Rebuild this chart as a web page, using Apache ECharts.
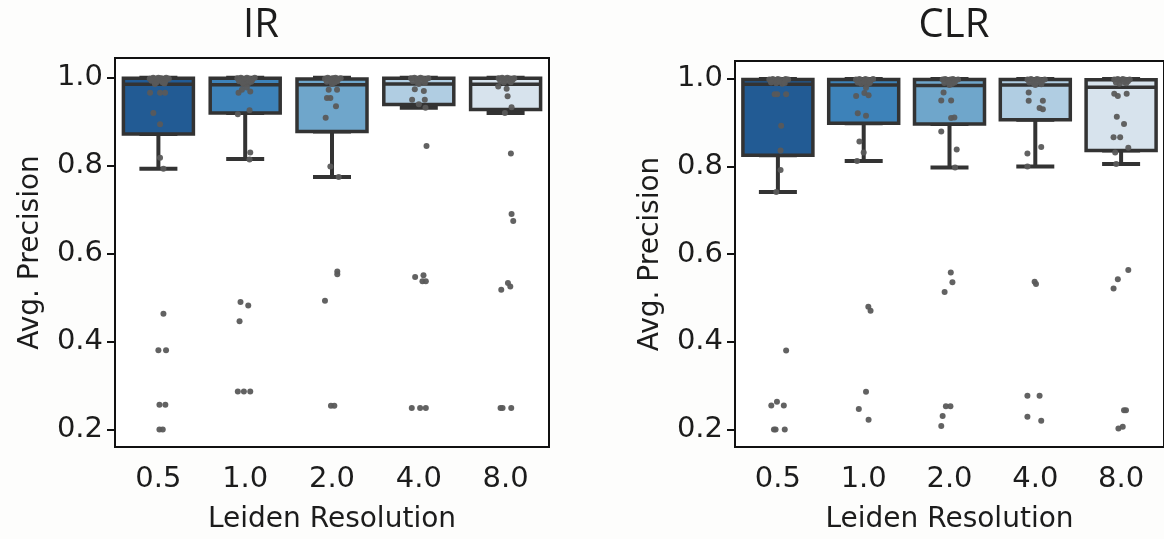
<!DOCTYPE html>
<html>
<head>
    <meta charset="UTF-8">
    <title>IR / CLR</title>
    <script src="https://cdn.jsdelivr.net/npm/echarts@6/dist/echarts.min.js"></script>
</head>
<body style="margin:0; background:#fdfdfc;">
<div id="chart" style="width:1164px; height:539px;"></div>
<script>
    var categories = ['0.5', '1.0', '2.0', '4.0', '8.0'];
    var yTicks = [0.2, 0.4, 0.6, 0.8, 1.0];
    var boxColors = ['#225b94', '#3d82b9', '#6fa6cb', '#b0cde2', '#d7e3ed'];

    // box stats per resolution: whisker low, Q1, median, Q3, whisker high
    var irMin = [0.793, 0.815, 0.774, 0.932, 0.920];
    var irQ1  = [0.872, 0.920, 0.878, 0.939, 0.928];
    var irMed = [0.985, 0.984, 0.984, 0.986, 0.985];
    var irQ3  = [0.999, 0.999, 0.997, 0.999, 0.999];
    var irMax = [1.000, 1.000, 1.000, 1.000, 1.000];

    var clrMin = [0.742, 0.813, 0.798, 0.800, 0.806];
    var clrQ1  = [0.826, 0.899, 0.897, 0.907, 0.837];
    var clrMed = [0.988, 0.986, 0.985, 0.986, 0.981];
    var clrQ3  = [0.999, 0.999, 0.999, 0.999, 0.998];
    var clrMax = [1.000, 1.000, 1.000, 1.000, 1.000];

    // strip points: [jitter, value]
    var irPts05 = [[-0.10,0.998],[-0.06,1.0],[-0.03,0.997],[0.0,1.0],[0.03,0.999],[0.06,0.996],[0.09,1.0],[0.12,0.998],
        [-0.08,0.993],[-0.02,0.990],[0.02,0.994],[0.05,0.989],[0.08,0.992],[-0.04,0.986],[0.07,0.987],
        [-0.096,0.966],[0.019,0.966],[0.077,0.966],[-0.058,0.920],[0.019,0.894],[0.019,0.818],[0.058,0.793],
        [0.058,0.463],[0.0,0.380],[0.088,0.380],[0.012,0.256],[0.08,0.256],[0.012,0.200],[0.05,0.200]];
    var irPts10 = [[-0.09,0.999],[-0.05,1.0],[-0.01,0.997],[0.02,1.0],[0.05,0.998],[0.08,0.995],[0.11,1.0],
        [-0.07,0.992],[-0.03,0.989],[0.01,0.993],[0.04,0.988],[0.07,0.991],[-0.02,0.985],
        [-0.038,0.973],[0.019,0.978],[0.058,0.969],[-0.077,0.966],[0.05,0.926],[-0.085,0.917],[0.058,0.830],[0.05,0.814],
        [-0.054,0.490],[0.035,0.482],[-0.065,0.446],[-0.085,0.286],[-0.015,0.286],[0.058,0.286]];
    var irPts20 = [[-0.08,0.998],[-0.05,1.0],[-0.02,0.996],[0.01,0.999],[0.04,1.0],[0.07,0.997],[0.10,0.999],
        [-0.06,0.991],[-0.01,0.993],[0.03,0.989],[0.06,0.992],[0.0,0.986],
        [-0.038,0.973],[0.058,0.973],[-0.058,0.954],[-0.019,0.954],[0.046,0.935],[-0.073,0.909],[-0.019,0.798],[0.077,0.774],
        [0.061,0.559],[0.061,0.553],[-0.081,0.493],[-0.012,0.254],[0.027,0.254]];
    var irPts40 = [[-0.09,0.999],[-0.05,1.0],[-0.02,0.997],[0.02,1.0],[0.05,0.998],[0.08,0.996],[0.11,0.999],
        [-0.07,0.992],[-0.02,0.990],[0.03,0.993],[0.07,0.988],[0.0,0.986],
        [-0.046,0.974],[0.058,0.970],[-0.077,0.950],[0.069,0.950],[0.0,0.940],[0.077,0.932],[0.089,0.845],
        [-0.042,0.547],[0.054,0.551],[0.042,0.537],[0.081,0.537],[-0.081,0.249],[0.015,0.249],[0.081,0.249]];
    var irPts80 = [[-0.08,0.999],[-0.04,1.0],[-0.01,0.997],[0.02,1.0],[0.05,0.998],[0.08,0.995],[0.10,0.999],
        [-0.06,0.992],[-0.02,0.989],[0.03,0.993],[0.06,0.990],
        [-0.085,0.980],[0.012,0.975],[0.023,0.958],[0.069,0.933],[-0.008,0.920],[0.061,0.828],[0.069,0.690],[0.088,0.674],
        [0.027,0.533],[0.054,0.525],[-0.05,0.518],[-0.058,0.249],[-0.035,0.249],[0.065,0.249]];

    var clrPts05 = [[-0.10,0.999],[-0.06,1.0],[-0.03,0.997],[0.0,1.0],[0.03,0.998],[0.06,0.996],[0.09,1.0],[0.12,0.999],
        [-0.08,0.992],[-0.02,0.990],[0.02,0.994],[0.05,0.989],[0.08,0.991],
        [-0.038,0.965],[-0.008,0.965],[0.096,0.965],[0.038,0.893],[0.031,0.837],[0.031,0.792],[-0.019,0.742],
        [0.096,0.380],[-0.077,0.255],[-0.011,0.263],[0.069,0.255],[-0.046,0.200],[-0.027,0.200],[0.08,0.200]];
    var clrPts10 = [[-0.09,0.999],[-0.05,1.0],[-0.02,0.997],[0.02,1.0],[0.05,0.998],[0.08,0.996],[0.11,1.0],
        [-0.07,0.992],[-0.03,0.989],[0.01,0.993],[0.04,0.988],[0.07,0.991],
        [-0.088,0.961],[0.008,0.968],[0.057,0.963],[0.027,0.980],[-0.069,0.922],[0.027,0.916],[-0.05,0.857],[0.0,0.832],[-0.077,0.813],
        [0.054,0.480],[0.08,0.471],[0.027,0.286],[-0.057,0.247],[0.057,0.222]];
    var clrPts20 = [[-0.08,0.999],[-0.05,1.0],[-0.02,0.996],[0.01,0.999],[0.04,1.0],[0.07,0.997],[0.10,0.999],
        [-0.06,0.991],[-0.01,0.993],[0.03,0.989],[0.06,0.992],[0.0,0.986],
        [-0.069,0.969],[-0.096,0.951],[0.019,0.951],[0.019,0.911],[0.057,0.912],[-0.096,0.880],[0.084,0.839],[0.065,0.798],
        [0.015,0.558],[0.034,0.536],[-0.057,0.514],[-0.042,0.253],[0.011,0.253],[-0.08,0.231],[-0.096,0.208]];
    var clrPts40 = [[-0.09,0.999],[-0.05,1.0],[-0.02,0.997],[0.02,1.0],[0.05,0.998],[0.08,0.996],[0.11,0.999],
        [-0.07,0.992],[-0.02,0.990],[0.03,0.993],[0.07,0.988],[0.0,0.986],
        [-0.077,0.969],[-0.077,0.950],[0.088,0.950],[0.05,0.934],[0.088,0.931],[0.069,0.845],[-0.092,0.830],[-0.092,0.800],
        [-0.008,0.537],[0.008,0.532],[-0.092,0.277],[0.05,0.277],[-0.092,0.229],[0.069,0.220]];
    var clrPts80 = [[-0.08,0.999],[-0.04,1.0],[-0.01,0.997],[0.02,1.0],[0.05,0.998],[0.08,0.995],[0.10,0.999],
        [-0.06,0.992],[-0.02,0.989],[0.03,0.993],[0.06,0.990],
        [-0.08,0.966],[-0.038,0.961],[0.065,0.966],[-0.05,0.914],[0.034,0.897],[-0.088,0.867],[-0.011,0.867],[0.084,0.843],[-0.069,0.832],[-0.057,0.806],
        [0.084,0.564],[-0.038,0.543],[-0.088,0.522],[0.034,0.244],[0.057,0.244],[-0.031,0.202],[0.019,0.206]];

    var irPoints = [irPts05, irPts10, irPts20, irPts40, irPts80];
    var clrPoints = [clrPts05, clrPts10, clrPts20, clrPts40, clrPts80];

    var font = 'DejaVu Sans';
    var ink = '#1c1c1c';
    var edge = '#333333';

    function boxData(q1, med, q3) {
        return categories.map(function (c, i) {
            return {value: [q1[i], q1[i], med[i], q3[i], q3[i]], itemStyle: {color: boxColors[i]}};
        });
    }
    function whiskerData(lo, q1, hi) {
        return categories.map(function (c, i) {
            return [lo[i], q1[i], q1[i], q1[i], hi[i]];
        });
    }
    function stripData(pts) {
        var out = [];
        pts.forEach(function (list, i) {
            list.forEach(function (p) { out.push([i + p[0], p[1]]); });
        });
        return out;
    }

    function xAxes(grid) {
        return [
            {
                type: 'category', gridIndex: grid, data: categories,
                name: 'Leiden Resolution', nameLocation: 'middle', nameGap: 59,
                nameTextStyle: {fontFamily: font, fontSize: 28, color: ink},
                axisLine: {onZero: false, lineStyle: {color: '#111', width: 2}},
                axisTick: {alignWithLabel: true, length: 8, lineStyle: {color: '#111', width: 2}},
                axisLabel: {fontFamily: font, fontSize: 29, color: ink, margin: 18}
            },
            {type: 'category', gridIndex: grid, data: categories, show: false},
            {type: 'value', gridIndex: grid, min: -0.5, max: 4.5, show: false}
        ];
    }
    function yAxis(grid, max) {
        return {
            type: 'value', gridIndex: grid, min: 0.16, max: max,
            name: 'Avg. Precision', nameLocation: 'middle', nameGap: 70,
            nameTextStyle: {fontFamily: font, fontSize: 28, color: ink},
            splitLine: {show: false},
            axisLine: {show: true, onZero: false, lineStyle: {color: '#111', width: 2}},
            axisTick: {show: true, length: 8, customValues: yTicks, lineStyle: {color: '#111', width: 2}},
            axisLabel: {fontFamily: font, fontSize: 29, color: ink, margin: 12, customValues: yTicks,
                formatter: function (v) { return v.toFixed(1); }}
        };
    }
    function panel(grid, lo, q1, med, q3, hi, pts) {
        var base = grid * 3;
        return [
            {
                type: 'boxplot', xAxisIndex: base + 1, yAxisIndex: grid, boxWidth: [38, 38],
                data: whiskerData(lo, q1, hi), silent: true, z: 2,
                itemStyle: {color: 'rgba(0,0,0,0)', borderColor: edge, borderWidth: 4}
            },
            {
                type: 'boxplot', xAxisIndex: base, yAxisIndex: grid, boxWidth: [70, 70],
                data: boxData(q1, med, q3), silent: true, z: 3,
                itemStyle: {borderColor: edge, borderWidth: 3.5}
            },
            {
                type: 'scatter', xAxisIndex: base + 2, yAxisIndex: grid, data: stripData(pts),
                symbolSize: 6, silent: true, z: 4,
                itemStyle: {color: '#5a5a5a', opacity: 0.95}
            }
        ];
    }

    var chart = echarts.init(document.getElementById('chart'), null, {renderer: 'canvas'});
    var option = {
        backgroundColor: '#fdfdfc',
        animation: false,
        grid: [
            {left: 115, top: 58, width: 434, height: 393, show: true, backgroundColor: '#ffffff',
                borderColor: '#111', borderWidth: 2},
            {left: 735, top: 61, width: 435, height: 392, show: true, backgroundColor: '#ffffff',
                borderColor: '#111', borderWidth: 2}
        ],
        graphic: [
            {type: 'text', x: 261, y: 26, style: {text: 'IR', fontFamily: 'Open Sans', fontSize: 40,
                fill: ink, align: 'center', verticalAlign: 'middle'}},
            {type: 'text', x: 954, y: 26, style: {text: 'CLR', fontFamily: 'Open Sans', fontSize: 40,
                fill: ink, align: 'center', verticalAlign: 'middle'}}
        ],
        xAxis: xAxes(0).concat(xAxes(1)),
        yAxis: [yAxis(0, 1.045), yAxis(1, 1.041)],
        series: panel(0, irMin, irQ1, irMed, irQ3, irMax, irPoints)
            .concat(panel(1, clrMin, clrQ1, clrMed, clrQ3, clrMax, clrPoints))
    };
    chart.setOption(option);
</script>
</body>
</html>
